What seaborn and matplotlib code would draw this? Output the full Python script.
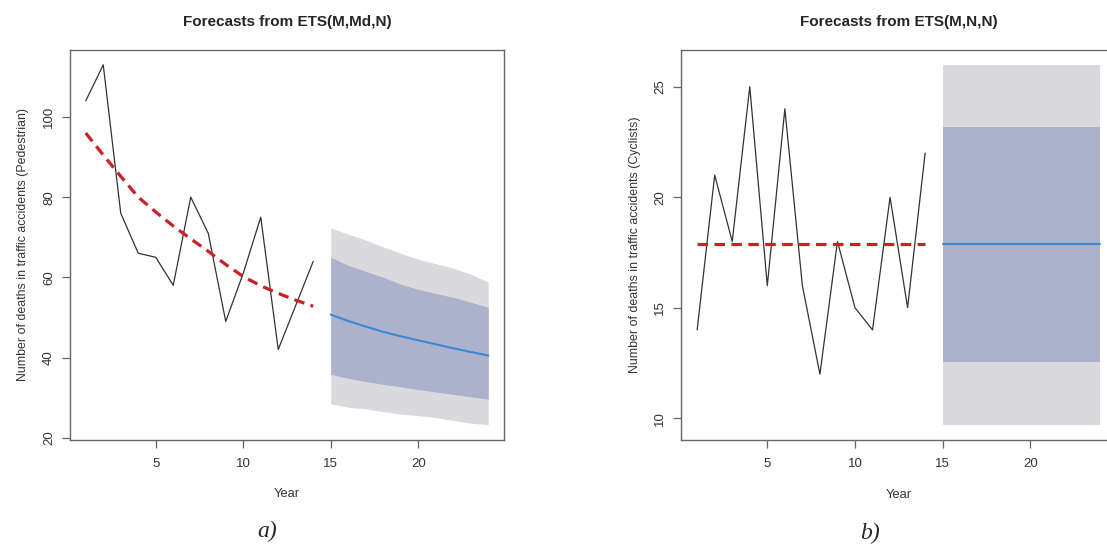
import matplotlib
matplotlib.use("Agg")
import matplotlib.pyplot as plt
import pandas as pd
import seaborn as sns

# observed series (years 1..14)
years_obs = list(range(1, 15))
pedestrian = [104, 113, 76, 66, 65, 58, 80, 71, 49, 61, 75, 42, 53, 64]
pedestrian_fit = [96, 90.5, 85.2, 80.0, 76.3, 72.8, 69.6, 66.5, 63.2, 60.2, 57.9, 56.0, 54.3, 52.8]
cyclists = [14, 21, 18, 25, 16, 24, 16, 12, 18, 15, 14, 20, 15, 22]
cyclists_fit = [17.87] * 14

# forecast horizon (years 15..24)
years_fc = list(range(15, 25))
ped_mean = [50.7, 49.1, 47.7, 46.4, 45.3, 44.3, 43.3, 42.3, 41.4, 40.5]
ped_lo80 = [35.8, 34.8, 34.0, 33.3, 32.7, 32.0, 31.4, 30.8, 30.2, 29.6]
ped_hi80 = [65.0, 63.0, 61.5, 60.0, 58.3, 57.0, 56.0, 55.0, 53.8, 52.5]
ped_lo95 = [28.5, 27.6, 27.2, 26.5, 25.9, 25.5, 25.0, 24.3, 23.6, 23.3]
ped_hi95 = [72.3, 70.8, 69.3, 67.6, 66.0, 64.5, 63.4, 62.3, 60.8, 58.8]

cyc_mean = [17.87] * 10
cyc_lo80 = [12.53] * 10
cyc_hi80 = [23.19] * 10
cyc_lo95 = [9.72] * 10
cyc_hi95 = [26.0] * 10

COL_OBS = "#333333"
COL_FIT = "#cc2027"
COL_FC = "#3a87d4"
COL_80 = "#adb2cc"
COL_95 = "#d9d9de"
COL_AX = "#666666"

sns.set_style("white")
plt.rcParams["font.family"] = ["Liberation Sans", "DejaVu Sans"]


def draw_panel(ax, obs, fit, mean, lo80, hi80, lo95, hi95, ylim, yticks, ylabel, title):
    ax.fill_between(years_fc, lo95, hi95, color=COL_95, linewidth=0)
    ax.fill_between(years_fc, lo80, hi80, color=COL_80, linewidth=0)

    df_obs = pd.DataFrame({"year": years_obs, "obs": obs, "fit": fit})
    df_fc = pd.DataFrame({"year": years_fc, "mean": mean})
    sns.lineplot(data=df_obs, x="year", y="obs", color=COL_OBS, linewidth=0.9, ax=ax)
    sns.lineplot(data=df_obs, x="year", y="fit", color=COL_FIT, linewidth=2.3,
                 dashes=False, ax=ax).lines[-1].set_dashes((3.3, 2.0))
    sns.lineplot(data=df_fc, x="year", y="mean", color=COL_FC, linewidth=1.5, ax=ax)

    ax.set_xlim(0.08, 24.92)
    ax.set_ylim(*ylim)
    ax.set_xticks([5, 10, 15, 20])
    ax.set_yticks(yticks)
    ax.set_yticklabels([str(t) for t in yticks], rotation=90, va="center")
    ax.tick_params(bottom=True, left=True, direction="out", length=5.5, width=0.9,
                   color=COL_AX, labelsize=9.5, labelcolor="#333333", pad=5)
    ax.tick_params(axis="x", pad=7.5)
    for s in ax.spines.values():
        s.set_visible(True)
        s.set_color(COL_AX)
        s.set_linewidth(1.0)
    ax.set_xlabel("Year", fontsize=9.3, color="#333333", labelpad=13.5)
    ax.set_ylabel(ylabel, fontsize=8.9, color="#333333", labelpad=10)
    ax.set_title(title, fontsize=11, fontweight="bold", pad=17)


fig = plt.figure(figsize=(11.07, 5.47), dpi=100)
ax1 = fig.add_axes([0.0629, 0.1965, 0.3927, 0.7121])
ax2 = fig.add_axes([0.6152, 0.1956, 0.3935, 0.7130])

draw_panel(ax1, pedestrian, pedestrian_fit, ped_mean, ped_lo80, ped_hi80, ped_lo95, ped_hi95,
           (19.55, 116.7), [20, 40, 60, 80, 100],
           "Number of deaths in traffic accidents (Pedestrian)", "Forecasts from ETS(M,Md,N)")
draw_panel(ax2, cyclists, cyclists_fit, cyc_mean, cyc_lo80, cyc_hi80, cyc_lo95, cyc_hi95,
           (9.02, 26.66), [10, 15, 20, 25],
           "Number of deaths in traffic accidents (Cyclists)", "Forecasts from ETS(M,N,N)")

fig.text(267 / 1107, 1 - 531 / 547, "a)", family="Liberation Serif", style="italic",
         fontsize=17, ha="center", va="center")
fig.text(870 / 1107, 1 - 533 / 547, "b)", family="Liberation Serif", style="italic",
         fontsize=17, ha="center", va="center")

fig.savefig("out.png", dpi=100)
